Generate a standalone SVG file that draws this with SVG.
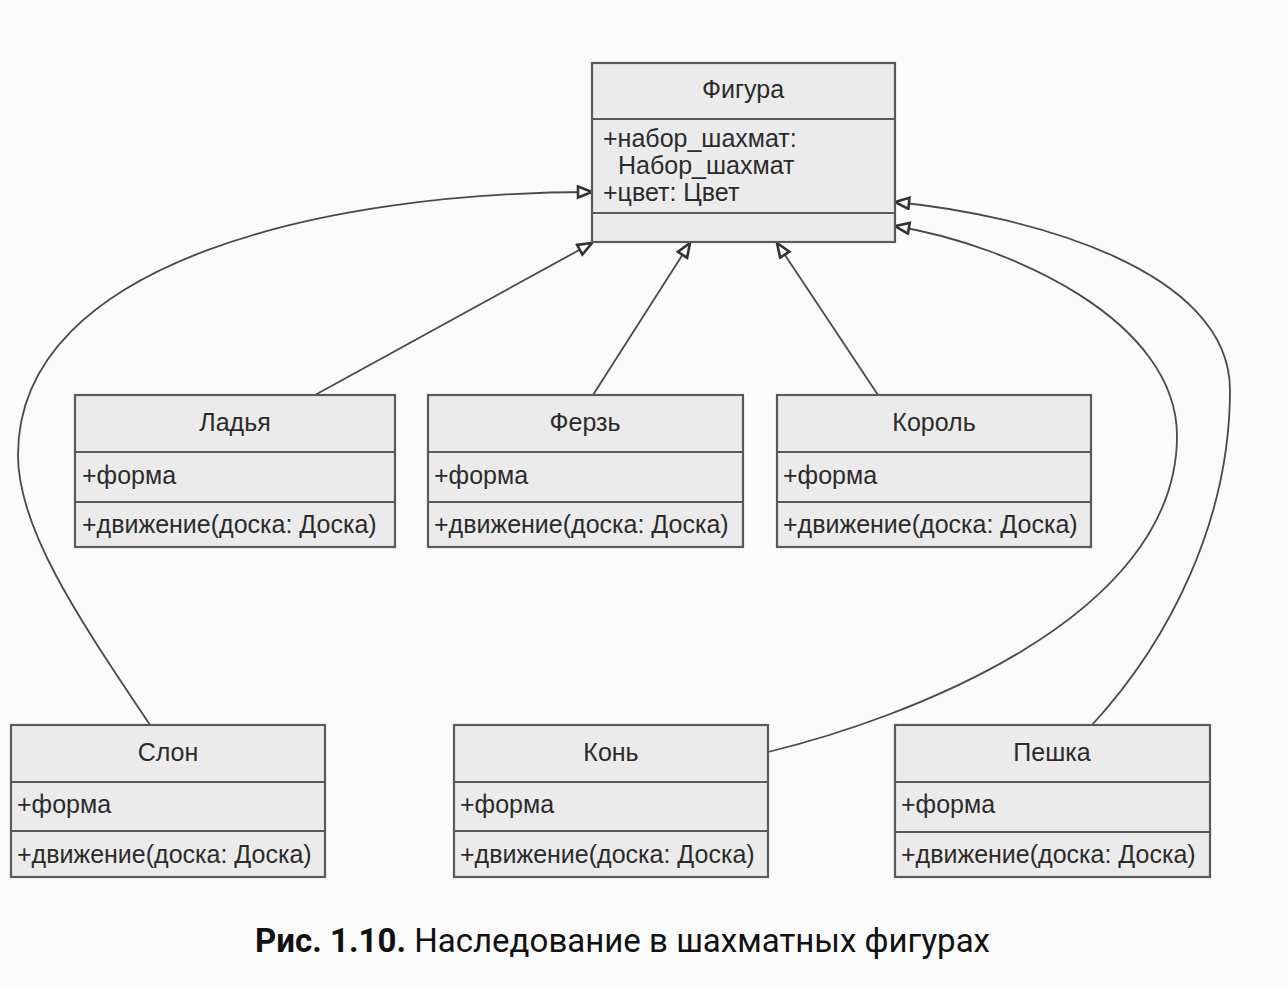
<svg xmlns="http://www.w3.org/2000/svg" width="1288" height="988" viewBox="0 0 1288 988">
  <style>
    .box { fill: #ebebeb; stroke: #5a5a5a; stroke-width: 2.2; }
    .div { stroke: #5a5a5a; stroke-width: 2.2; }
    .t { font-family: "Liberation Sans", Arial, sans-serif; font-size: 25px; fill: #2b2b2b; }
    .c { text-anchor: middle; }
    .edge { fill: none; stroke: #4a4a4a; stroke-width: 1.8; marker-end: url(#gen); }
    .cap { font-family: Roboto, "Noto Sans", sans-serif; font-size: 34px; fill: #111; }
  </style>
  <defs>
    <marker id="gen" markerUnits="userSpaceOnUse" markerWidth="20" markerHeight="16" refX="16" refY="7" orient="auto" viewBox="0 0 20 16">
      <path d="M2,1.5 L16,7 L2,12.5 Z" fill="#ffffff" stroke="#333" stroke-width="2.6" stroke-linejoin="miter"/>
    </marker>
  </defs>

  <rect width="1288" height="988" fill="#fbfbfb"/>

  <!-- inheritance connectors -->
  <g id="connectors">
    <path class="edge" d="M315,395 L592,243"/>
    <path class="edge" d="M593,395 L690,243"/>
    <path class="edge" d="M878,395 L777,243"/>
    <path class="edge" d="M150,725 C80,620 18,530 18,455 C18,260 330,192 592,192"/>
    <path class="edge" d="M768,752 C900,720 1177,620 1177,436 C1177,320 1010,245 895,226"/>
    <path class="edge" d="M1092,725 C1170,640 1230,520 1230,390 C1230,270 1030,215 895,202"/>
  </g>

  <g id="figura">
    <rect class="box" x="592" y="63" width="303" height="179"/>
    <line class="div" x1="592" y1="119" x2="895" y2="119"/>
    <line class="div" x1="592" y1="213" x2="895" y2="213"/>
    <text class="t c" x="743" y="98">Фигура</text>
    <text class="t" x="603" y="147">+набор_шахмат:</text>
    <text class="t" x="618" y="174">Набор_шахмат</text>
    <text class="t" x="603" y="201">+цвет: Цвет</text>
  </g>

  <g id="ladya">
    <rect class="box" x="75" y="395" width="320" height="152"/>
    <line class="div" x1="75" y1="452" x2="395" y2="452"/>
    <line class="div" x1="75" y1="502" x2="395" y2="502"/>
    <text class="t c" x="235" y="431">Ладья</text>
    <text class="t" x="82" y="484">+форма</text>
    <text class="t" x="82" y="533">+движение(доска: Доска)</text>
  </g>

  <g id="ferz">
    <rect class="box" x="428" y="395" width="315" height="152"/>
    <line class="div" x1="428" y1="452" x2="743" y2="452"/>
    <line class="div" x1="428" y1="502" x2="743" y2="502"/>
    <text class="t c" x="585" y="431">Ферзь</text>
    <text class="t" x="434" y="484">+форма</text>
    <text class="t" x="434" y="533">+движение(доска: Доска)</text>
  </g>

  <g id="korol">
    <rect class="box" x="777" y="395" width="314" height="152"/>
    <line class="div" x1="777" y1="452" x2="1091" y2="452"/>
    <line class="div" x1="777" y1="502" x2="1091" y2="502"/>
    <text class="t c" x="934" y="431">Король</text>
    <text class="t" x="783" y="484">+форма</text>
    <text class="t" x="783" y="533">+движение(доска: Доска)</text>
  </g>

  <g id="slon">
    <rect class="box" x="11" y="725" width="314" height="152"/>
    <line class="div" x1="11" y1="782" x2="325" y2="782"/>
    <line class="div" x1="11" y1="831" x2="325" y2="831"/>
    <text class="t c" x="168" y="761">Слон</text>
    <text class="t" x="17" y="813">+форма</text>
    <text class="t" x="17" y="863">+движение(доска: Доска)</text>
  </g>

  <g id="kon">
    <rect class="box" x="454" y="725" width="314" height="152"/>
    <line class="div" x1="454" y1="782" x2="768" y2="782"/>
    <line class="div" x1="454" y1="831" x2="768" y2="831"/>
    <text class="t c" x="611" y="761">Конь</text>
    <text class="t" x="460" y="813">+форма</text>
    <text class="t" x="460" y="863">+движение(доска: Доска)</text>
  </g>

  <g id="peshka">
    <rect class="box" x="895" y="725" width="315" height="152"/>
    <line class="div" x1="895" y1="782" x2="1210" y2="782"/>
    <line class="div" x1="895" y1="832" x2="1210" y2="832"/>
    <text class="t c" x="1052" y="761">Пешка</text>
    <text class="t" x="901" y="813">+форма</text>
    <text class="t" x="901" y="863">+движение(доска: Доска)</text>
  </g>

  <text class="cap" x="255" y="952" textLength="735" lengthAdjust="spacingAndGlyphs"><tspan font-weight="bold">Рис. 1.10.</tspan> Наследование в шахматных фигурах</text>
</svg>
